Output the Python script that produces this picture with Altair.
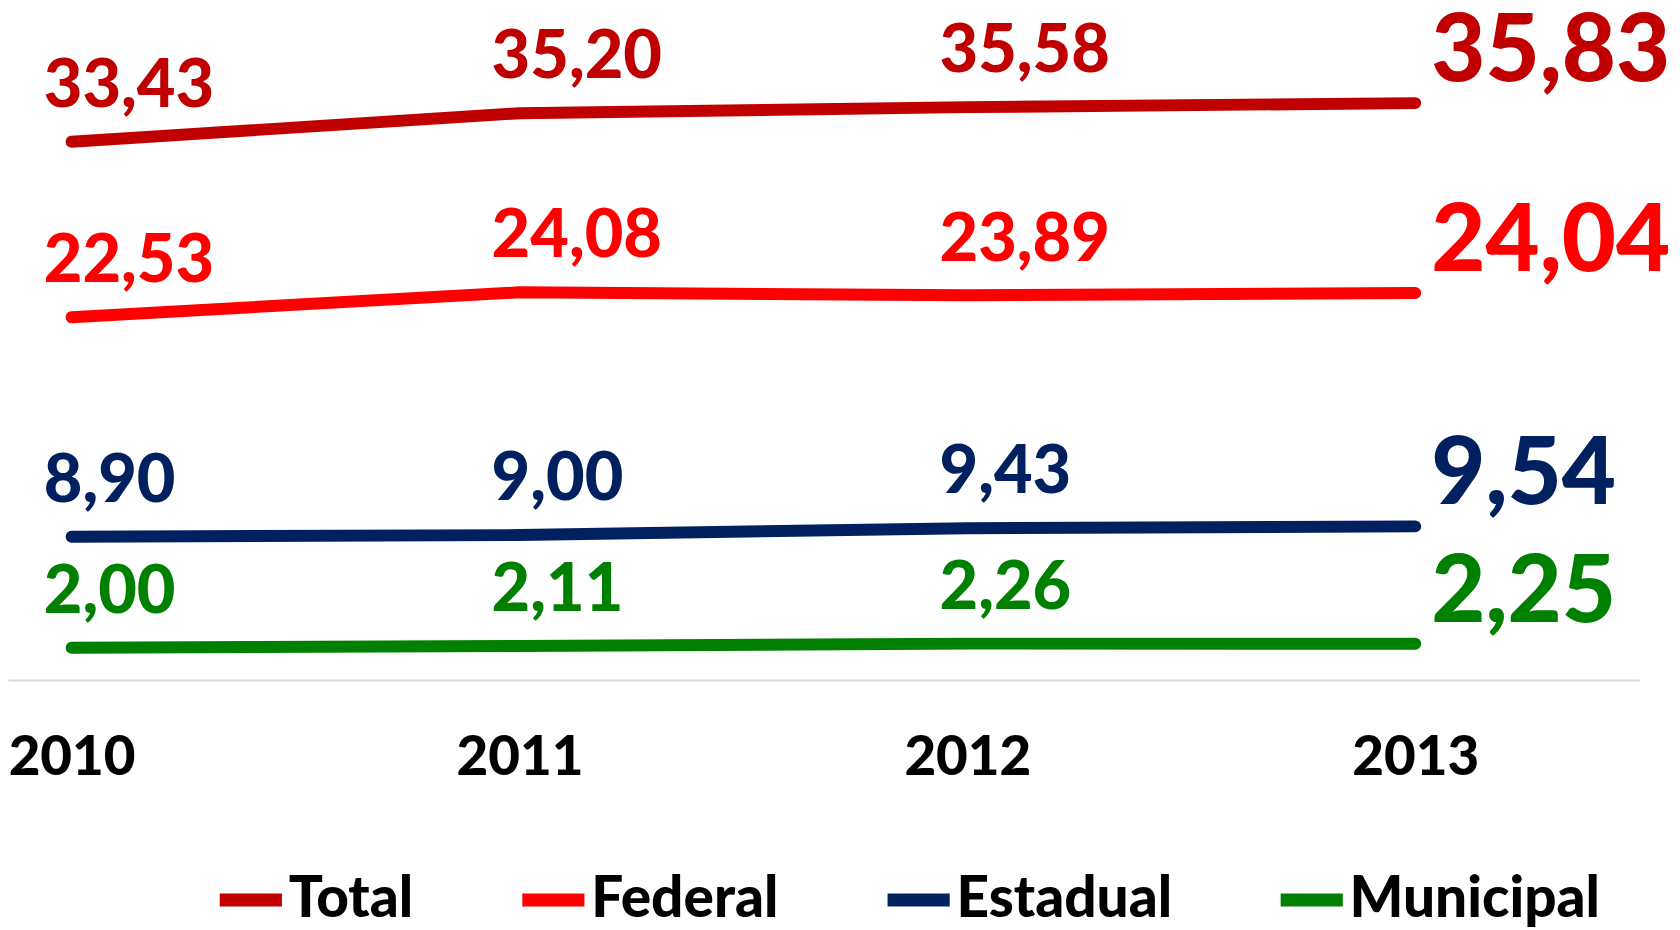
import altair as alt
import pandas as pd

# ---- data ----
years = [2010, 2011, 2012, 2013]
series = ["Total", "Federal", "Estadual", "Municipal"]
total = [33.43, 35.20, 35.58, 35.83]
federal = [22.53, 24.08, 23.89, 24.04]
estadual = [8.90, 9.00, 9.43, 9.54]
municipal = [2.00, 2.11, 2.26, 2.25]
colors = ["#C00000", "#FF0000", "#002060", "#008000"]

rows = []
for name, vals in zip(series, [total, federal, estadual, municipal]):
    for yr, v in zip(years, vals):
        rows.append({"ano": yr, "serie": name, "valor": v})
df = pd.DataFrame(rows)

FONT = "Lato"
WEIGHT = 900

x = alt.X(
    "ano:Q",
    scale=alt.Scale(domain=[2009.858, 2013.5], nice=False, zero=False),
    axis=alt.Axis(
        values=years, format="d", ticks=False, grid=False, domain=True,
        domainColor="#D9D9D9", domainWidth=2, labelFont=FONT, labelFontSize=55,
        labelFontWeight=WEIGHT, labelColor="black", labelPadding=52,
        labelFlush=False, title=None,
    ),
)
y = alt.Y("valor:Q", scale=alt.Scale(domain=[0, 41.6], nice=False), axis=None)

base = alt.Chart(df).encode(x=x, y=y)

lines = base.mark_line(strokeWidth=12, strokeCap="round", strokeJoin="round").encode(
    color=alt.Color(
        "serie:N",
        scale=alt.Scale(domain=series, range=colors),
        sort=series,
        legend=alt.Legend(
            orient="none", legendX=206, legendY=856, direction="horizontal",
            title=None, symbolType="stroke", symbolStrokeWidth=13, symbolSize=3900,
            labelFont=FONT, labelFontSize=57, labelFontWeight=WEIGHT,
            labelColor="black", labelLimit=400, labelOffset=0, columnPadding=82,
        ),
    )
)

fill_enc = alt.Fill("serie:N", scale=alt.Scale(domain=series, range=colors), legend=None)

labels = base.transform_calculate(
    rotulo="replace(format(datum.valor, '.2f'), '.', ',')"
)

lab_main = labels.transform_filter("datum.ano < 2013").mark_text(
    align="left", baseline="middle", dx=-28, dy=-55,
    font=FONT, fontSize=67, fontWeight=WEIGHT,
).encode(text="rotulo:N", fill=fill_enc)

lab_last = labels.transform_filter("datum.ano == 2013").mark_text(
    align="left", baseline="middle", dx=16, dy=-50,
    font=FONT, fontSize=94, fontWeight=WEIGHT,
).encode(text="rotulo:N", fill=fill_enc)

chart = (
    alt.layer(lines, lab_main, lab_last)
    .resolve_scale(color="independent", fill="independent")
    .properties(
        width=1639, height=673,
        autosize=alt.AutoSizeParams(type="none"),
        padding={"left": 0, "top": 0, "right": 33, "bottom": 249},
    )
    .configure_view(stroke=None)
)

chart.save("out.html", embed_options={"renderer": "svg", "actions": False})
